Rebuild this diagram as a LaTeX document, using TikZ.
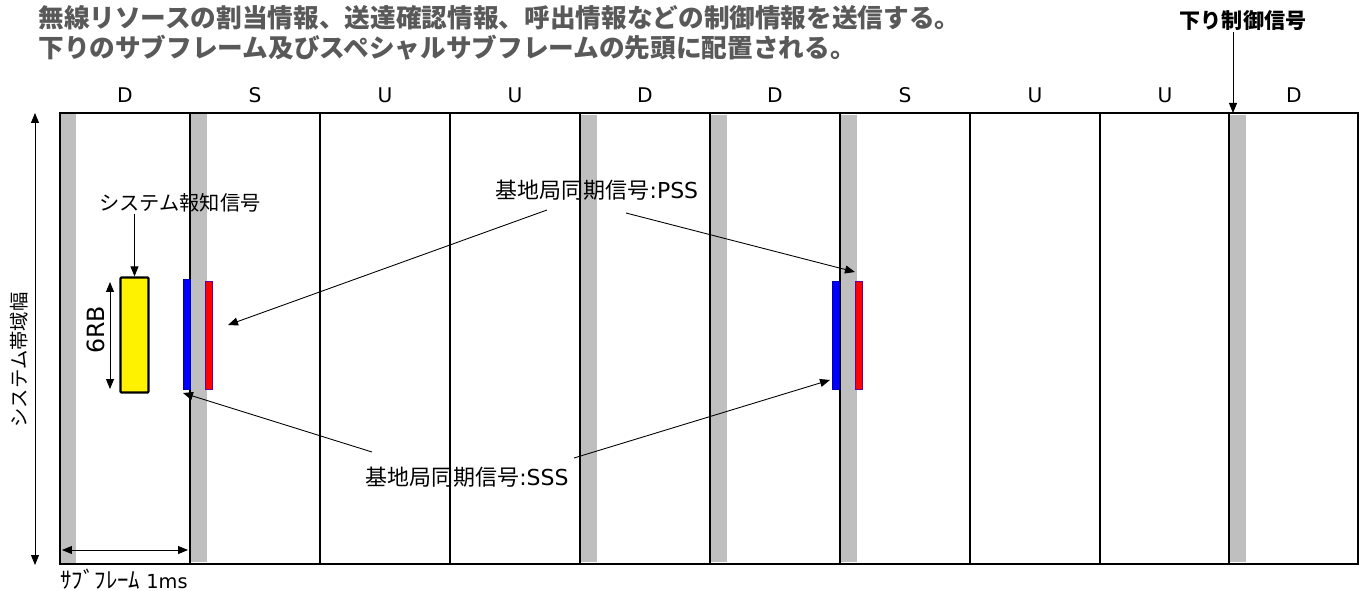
\documentclass[tikz,border=0pt]{standalone}
\usepackage{fontspec}
\setmainfont{DejaVu Sans}
\newfontfamily\jp{Noto Sans CJK JP}
\usetikzlibrary{arrows.meta}
\definecolor{slotgray}{RGB}{191,191,191}
\definecolor{titlegray}{RGB}{89,89,89}
\definecolor{ssblue}{RGB}{0,0,255}
\definecolor{ssred}{RGB}{255,0,0}

\tikzset{
    sframe/.style={line width=1.1pt},
    ctrl/.style={fill=slotgray},
    pointer/.style={-{Triangle[length=2mm,width=1.6mm]}, line width=0.5pt},
    span/.style={{Triangle[length=2mm,width=1.6mm]}-{Triangle[length=2mm,width=1.6mm]}, line width=0.5pt},
    sftype/.style={font=\fontsize{11.5}{13}\selectfont},
    note/.style={font=\jp\fontsize{11.5}{14}\selectfont, inner sep=1pt},
    sync/.style={font=\fontsize{12.5}{15}\selectfont, inner sep=1pt},
    title/.style={font=\jp\bfseries\fontsize{14.6}{17}\selectfont, text=titlegray, anchor=west, inner sep=0pt},
    bar/.style={inner sep=0pt, outer sep=0pt, minimum width=0.14cm, line width=0.3pt},
}

\begin{document}
\begin{tikzpicture}[x=0.02cm, y=-0.02cm]
    \useasboundingbox (0,0) rectangle (1367,591);

    % heading
    \node[title] (head1) at (38,18) {無線リソースの割当情報、送達確認情報、呼出情報などの制御情報を送信する。};
    \node[title] (head2) at (38,48) {下りのサブフレーム及びスペシャルサブフレームの先頭に配置される。};

    % control region at the start of D and S subframes
    \fill[ctrl] (61,114) rectangle (76,563);
    \fill[ctrl] (191,114) rectangle (207,562);
    \fill[ctrl] (581,115) rectangle (597,562);
    \fill[ctrl] (711,115) rectangle (727,562);
    \fill[ctrl] (841,115) rectangle (857,562);
    \fill[ctrl] (1230,115) rectangle (1246,562);

    % radio frame, ten subframes
    \draw[sframe] (60,113) rectangle (1358,564);
    \draw[sframe] (190,113) -- (190,564)
                  (320,113) -- (320,564)
                  (450,113) -- (450,564)
                  (580,113) -- (580,564)
                  (710,113) -- (710,564)
                  (840,113) -- (840,564)
                  (970,113) -- (970,564)
                  (1100,113) -- (1100,564)
                  (1229,113) -- (1229,564);

    \node[sftype] (d1) at (125,95) {D};
    \node[sftype] (s1) at (255,95) {S};
    \node[sftype] (u1) at (385,95) {U};
    \node[sftype] (u2) at (515,95) {U};
    \node[sftype] (d2) at (645,95) {D};
    \node[sftype] (d3) at (775,95) {D};
    \node[sftype] (s2) at (905,95) {S};
    \node[sftype] (u3) at (1035,95) {U};
    \node[sftype] (u4) at (1165,95) {U};
    \node[sftype] (d4) at (1294,95) {D};

    % downlink control
    \node[font=\jp\bfseries\fontsize{12}{14}\selectfont, inner sep=1pt] (dlctl) at (1243,20) {下り制御信号};
    \coordinate (dlctl-tip) at (1233,113);
    \draw[pointer] (dlctl-tip |- dlctl.south) -- (dlctl-tip);

    % broadcast block
    \node[draw, fill=yellow, line width=1.3pt, rounded corners=0.5pt,
          minimum width=0.56cm, minimum height=2.3cm, inner sep=0pt] (sib) at (134.5,335) {};
    \node[note] (sysinfo) at (180,203) {システム報知信号};
    \draw[pointer] (sib.north |- sysinfo.south) -- (sib.north);

    \coordinate (rb-top) at (110,282);
    \coordinate (rb-bot) at (110,389);
    \draw[span] (rb-top) -- (rb-bot);
    \node[rotate=90, font=\fontsize{13.5}{15}\selectfont] (rb) at (96,330) {6RB};

    % synchronisation signals
    \node[bar, draw=ssblue!70!black, fill=ssblue, minimum height=2.2cm] (blue1) at (186.5,334) {};
    \node[bar, draw=ssblue!60!ssred, fill=ssred, minimum height=2.16cm] (red1) at (208.5,335) {};
    \node[bar, draw=ssblue!70!black, fill=ssblue, minimum height=2.16cm] (blue2) at (835.5,335) {};
    \node[bar, draw=ssblue!60!ssred, fill=ssred, minimum height=2.16cm] (red2) at (858.5,335) {};

    \node[sync] (psslbl) at (597,190) {{\jp 基地局同期信号}:PSS};
    \draw[pointer] ([shift={(-50,20)}]psslbl.center) -- ([shift={(16,-10)}]red1.east);
    \draw[pointer] ([shift={(29,23)}]psslbl.center) -- ([shift={(0,-9)}]red2.north west);

    \node[sync] (ssslbl) at (467,477) {{\jp 基地局同期信号}:SSS};
    \draw[pointer] ([shift={(-95,-25)}]ssslbl.center) -- ([shift={(0,4)}]blue1.south west);
    \draw[pointer] ([shift={(107,-19)}]ssslbl.center) -- ([shift={(-2,-9)}]blue2.south west);

    % system bandwidth
    \coordinate (bw-top) at (35,113);
    \coordinate (bw-bot) at (35,565);
    \draw[span] (bw-top) -- (bw-bot);
    \node[note, rotate=90, font=\jp\fontsize{11}{13}\selectfont] (bw) at (19,360) {システム帯域幅};

    % one subframe
    \coordinate (sf-left) at (62,550);
    \coordinate (sf-right) at (188,550);
    \draw[span] (sf-left) -- (sf-right);
    \node[anchor=west, inner sep=0pt, font=\fontsize{11}{13}\selectfont] (sflen) at (60,579) {{\jp\fontsize{13}{13}\selectfont ｻﾌﾞﾌﾚｰﾑ} 1ms};
\end{tikzpicture}
\end{document}
